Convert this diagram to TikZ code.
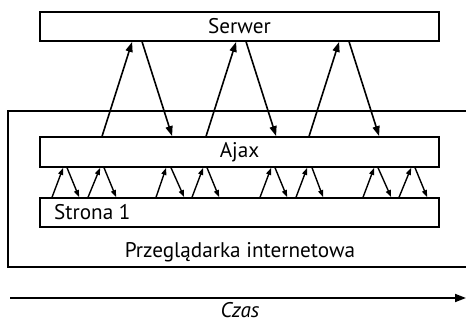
\documentclass[tikz,border=0pt]{standalone}
\usepackage{fontspec}
\setmainfont{PT Sans}
\usetikzlibrary{arrows.meta,calc}
\begin{document}
\begin{tikzpicture}[x=1pt,y=-1pt,
  lbl/.style={font=\fontsize{21.2}{23}\selectfont,inner sep=0pt},
  box/.style={draw,line width=1.8pt,minimum width=399pt,inner sep=0pt,font=\fontsize{21.2}{23}\selectfont},
  bigarr/.style={line width=1.6pt,-{Triangle[length=10pt,width=7pt]}},
  smallarr/.style={line width=1.4pt,-{Triangle[length=7pt,width=5pt]}}]
\useasboundingbox (0,0) rectangle (466,320);
% browser frame
\coordinate (ftr) at (466,111);
\coordinate (ftl) at (8,111);
\coordinate (fbl) at (8,267);
\coordinate (fbr) at (466,267);
\draw[line width=1.8pt] (ftr) -- (ftl) -- (fbl) -- (fbr);
\node[box,minimum height=29pt] (serwer) at (239.5,26.5) {Serwer};
\node[box,minimum height=30pt] (ajax) at (239.5,152) {Ajax};
\node[box,minimum height=29pt] (strona) at (239.5,212.5) {};
\node[lbl,anchor=west] (stronat) at (54,212) {Strona 1};
\node[lbl] (przeg) at (240,252) {Przeglądarka internetowa};
% server <-> ajax
\foreach \a/\b in {63/93,167/197,270/300}
  \draw[bigarr] ($(ajax.north west)+(\a,0)$) -- ($(serwer.south west)+(\b,0)$);
\foreach \a/\b in {103/133,207/237,310/340}
  \draw[bigarr] ($(serwer.south west)+(\a,0)$) -- ($(ajax.north west)+(\b,0)$);
% strona <-> ajax
\foreach \a/\b in {13/24,49/61,117/127,153/164,221/232,257/268,324/335,360/372}
  \draw[smallarr] ($(strona.north west)+(\a,0)$) -- ($(ajax.south west)+(\b,0)$);
\foreach \a/\b in {28/40,65/77,132/145,168/180,236/248,273/284,339/352,376/388}
  \draw[smallarr] ($(ajax.south west)+(\a,0)$) -- ($(strona.north west)+(\b,0)$);
% time
\coordinate (t0) at (10,298);
\coordinate (t1) at (466,298);
\draw[line width=1.8pt,-{Triangle[length=11pt,width=8pt]}] (t0) -- (t1);
\node[lbl,font=\fontsize{21.2}{23}\selectfont\itshape] (czas) at (240,310) {Czas};
\end{tikzpicture}
\end{document}
